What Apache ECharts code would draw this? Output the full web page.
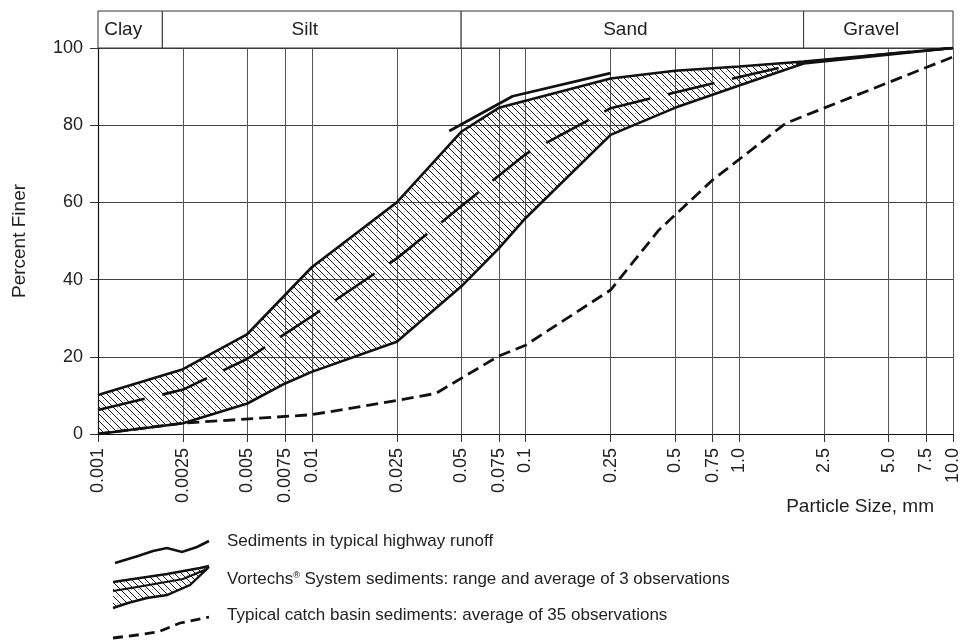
<!DOCTYPE html>
<html><head><meta charset="utf-8">
<script src="https://cdn.jsdelivr.net/npm/echarts@6/dist/echarts.min.js"></script>
<style>html,body{margin:0;padding:0;background:#fff}#chart{width:964px;height:641px}</style>
</head><body><div id="chart"></div>
<script>
const FONT = '"Liberation Sans", Arial, Helvetica, sans-serif';

// x tick values (mm) and their labels
const tickSizes  = [0.001, 0.0025, 0.005, 0.0075, 0.01, 0.025, 0.05, 0.075, 0.1, 0.25, 0.5, 0.75, 1.0, 2.5, 5.0, 7.5, 10.0];
const tickLabels = ['0.001','0.0025','0.005','0.0075','0.01','0.025','0.05','0.075','0.1','0.25','0.5','0.75','1.0','2.5','5.0','7.5','10.0'];

// soil classes band
const soilNames  = ['Clay', 'Silt', 'Sand', 'Gravel'];
const soilLimits = [0.001, 0.002, 0.05, 2, 10];

// Sediments in typical highway runoff
const highwaySize  = [0.044, 0.087, 0.25];
const highwayFiner = [78.5, 87.5, 93.5];

// Vortechs range: upper bound
const vortUpperSize  = [0.001, 0.0025, 0.005, 0.01, 0.025, 0.05, 0.075, 0.25, 0.5, 1.0, 2.0, 10];
const vortUpperFiner = [10.1, 16.8, 25.9, 43.2, 60, 78.3, 84.5, 92.1, 94.1, 95.2, 96.5, 100];
// Vortechs range: lower bound
const vortLowerSize  = [0.001, 0.0025, 0.005, 0.0075, 0.01, 0.025, 0.05, 0.075, 0.1, 0.25, 0.5, 1.0, 2.0, 10];
const vortLowerFiner = [0, 2.8, 7.9, 13.1, 16.1, 23.9, 38.2, 48.1, 55.9, 77.5, 84.5, 90.3, 96, 100];
// Vortechs average
const vortAvgSize  = [0.001, 0.0025, 0.005, 0.01, 0.025, 0.05, 0.1, 0.25, 1.0, 2.0, 5.0, 10];
const vortAvgFiner = [6.2, 11.5, 19.5, 30.5, 45.5, 59, 72.5, 84.4, 92.5, 96.3, 98.5, 100];

// Typical catch basin sediments
const catchSize  = [0.001, 0.0025, 0.01, 0.025, 0.038, 0.075, 0.1, 0.25, 0.42, 0.75, 1.65, 10];
const catchFiner = [0, 2.8, 5, 8.7, 10.5, 20.2, 23, 37.3, 52.8, 65.8, 80.5, 97.7];

function pairs(xs, ys) { return xs.map((x, i) => [x, ys[i]]); }

function makeHatch() {
  const s = 7, c = document.createElement('canvas');
  c.width = s; c.height = s;
  const g = c.getContext('2d');
  g.fillStyle = '#1a1a1a';
  for (let i = 0; i < s; i++) g.fillRect(i, i, 1, 1);
  g.fillStyle = '#9a9a9a';
  g.fillRect(5, 1, 1, 1);
  return c;
}
const hatchFill = { image: makeHatch(), repeat: 'repeat' };

const chart = echarts.init(document.getElementById('chart'), null, { renderer: 'canvas' });

function labelFor(v) {
  let best = 0, bd = Infinity;
  tickSizes.forEach((t, i) => {
    const d = Math.abs(Math.log10(v) - Math.log10(t));
    if (d < bd) { bd = d; best = i; }
  });
  return tickLabels[best];
}

const lineBase = { type: 'line', symbol: 'none', showSymbol: false, silent: true, animation: false, xAxisIndex: 0, yAxisIndex: 0 };

const option = {
  animation: false,
  backgroundColor: '#ffffff',
  textStyle: { fontFamily: FONT },
  grid: [
    { left: 98, right: 11, top: 48, bottom: 207, show: false, containLabel: false, outerBoundsMode: 'none' },
    { left: 98, right: 11, top: 11, height: 37, show: false, containLabel: false, outerBoundsMode: 'none' }
  ],
  xAxis: [
    {
      type: 'log', logBase: 10, min: 0.001, max: 10, gridIndex: 0,
      axisLine: { show: true, onZero: false, lineStyle: { color: '#111', width: 1.2 } },
      axisTick: { show: true, customValues: tickSizes, length: 8, inside: false, lineStyle: { color: '#333' } },
      axisLabel: { show: true, customValues: tickSizes, rotate: 90, margin: 14, fontSize: 18, color: '#222', fontFamily: FONT, formatter: labelFor },
      splitLine: { show: true, lineStyle: { color: '#555', width: 1 } },
      minorTick: { show: false }, minorSplitLine: { show: false }
    },
    { type: 'log', logBase: 10, min: 0.001, max: 10, gridIndex: 1, show: false }
  ],
  yAxis: [
    {
      type: 'value', min: 0, max: 100, interval: 20, gridIndex: 0,
      name: 'Percent Finer', nameLocation: 'middle', nameGap: 69, nameRotate: 90,
      nameTextStyle: { fontSize: 19, color: '#222', fontFamily: FONT },
      axisLine: { show: true, lineStyle: { color: '#111', width: 1.2 } },
      axisTick: { show: true, length: 8, lineStyle: { color: '#333' } },
      axisLabel: { fontSize: 18, color: '#222', margin: 15, fontFamily: FONT },
      splitLine: { show: true, lineStyle: { color: '#444', width: 1 } }
    },
    { type: 'value', min: 0, max: 1, gridIndex: 1, show: false }
  ],
  series: [
    {
      type: 'custom', name: 'soil', xAxisIndex: 1, yAxisIndex: 1, silent: true, animation: false,
      data: soilNames.map((n, i) => [soilLimits[i], soilLimits[i + 1], i]),
      renderItem: function (params, api) {
        const i = params.dataIndex;
        const p0 = api.coord([soilLimits[i], 0]);
        const p1 = api.coord([soilLimits[i + 1], 1]);
        return {
          type: 'group',
          children: [
            { type: 'rect', shape: { x: p0[0], y: p1[1], width: p1[0] - p0[0], height: p0[1] - p1[1] },
              style: { fill: '#fff', stroke: '#333', lineWidth: 1 } },
            { type: 'text', x: (p0[0] + p1[0]) / 2 - 7, y: (p0[1] + p1[1]) / 2,
              style: { text: soilNames[i], fontSize: 19, fontFamily: FONT, fill: '#222', align: 'center', verticalAlign: 'middle' } }
          ]
        };
      }
    },
    {
      type: 'custom', name: 'band', xAxisIndex: 0, yAxisIndex: 0, silent: true, animation: false, z: 2,
      data: [[vortUpperSize[0], vortUpperFiner[0]]],
      renderItem: function (params, api) {
        const up = vortUpperSize.map((s, i) => api.coord([s, vortUpperFiner[i]]));
        const lo = vortLowerSize.map((s, i) => api.coord([s, vortLowerFiner[i]])).reverse();
        return { type: 'polygon', shape: { points: up.concat(lo) }, style: { fill: hatchFill, stroke: null } };
      }
    },
    Object.assign({}, lineBase, { name: 'catch', z: 3, data: pairs(catchSize, catchFiner),
      lineStyle: { color: '#111', width: 2.8, type: [12, 6] } }),
    Object.assign({}, lineBase, { name: 'upper', z: 4, data: pairs(vortUpperSize, vortUpperFiner),
      lineStyle: { color: '#111', width: 2.6 } }),
    Object.assign({}, lineBase, { name: 'lower', z: 4, data: pairs(vortLowerSize, vortLowerFiner),
      lineStyle: { color: '#111', width: 2.6 } }),
    Object.assign({}, lineBase, { name: 'avg', z: 4, data: pairs(vortAvgSize, vortAvgFiner),
      lineStyle: { color: '#111', width: 2.6, type: [48, 18] } }),
    Object.assign({}, lineBase, { name: 'highway', z: 4, data: pairs(highwaySize, highwayFiner),
      lineStyle: { color: '#111', width: 2.8 } })
  ],
  graphic: [
    { type: 'text', right: 30, top: 497, style: { text: 'Particle Size, mm', fontSize: 19, fontFamily: FONT, fill: '#222' } },
    // legend icons
    { type: 'polyline', shape: { points: [[115,563],[138,556],[153,551],[167,548],[182,552],[197,547],[209,541]] },
      style: { stroke: '#111', lineWidth: 2.6, fill: null } },
    { type: 'polygon', shape: { points: [[113,582],[140,578],[167,574],[200,568],[209,566],[190,585],[167,595],[147,598],[128,603],[113,608]] },
      style: { fill: hatchFill, stroke: null } },
    { type: 'polyline', shape: { points: [[113,582],[140,578],[167,574],[200,568],[209,566]] }, style: { stroke: '#111', lineWidth: 2.4, fill: null } },
    { type: 'polyline', shape: { points: [[113,608],[128,603],[147,598],[167,595],[190,585],[209,567]] }, style: { stroke: '#111', lineWidth: 2.4, fill: null } },
    { type: 'polyline', shape: { points: [[113,591],[143,586],[183,579],[207,569]] }, style: { stroke: '#111', lineWidth: 2.2, fill: null } },
    { type: 'polyline', shape: { points: [[113,638],[137,635],[158,632],[180,623],[209,617]] },
      style: { stroke: '#111', lineWidth: 2.8, fill: null, lineDash: [10, 6] } },
    { type: 'text', left: 227, top: 533, style: { text: 'Sediments in typical highway runoff', fontSize: 17, fontFamily: FONT, fill: '#222' } },
    { type: 'text', left: 227, top: 571, style: { text: '{a|Vortechs}{s|®}{a| System sediments: range and average of 3 observations}',
        rich: { a: { fontSize: 17, fontFamily: FONT, fill: '#222', color: '#222' }, s: { fontSize: 9, fontFamily: FONT, color: '#222', verticalAlign: 'top', padding: [0, 0, 8, 0] } } } },
    { type: 'text', left: 227, top: 607, style: { text: 'Typical catch basin sediments: average of 35 observations', fontSize: 17, fontFamily: FONT, fill: '#222' } }
  ]
};
chart.setOption(option);
</script>
</body></html>
